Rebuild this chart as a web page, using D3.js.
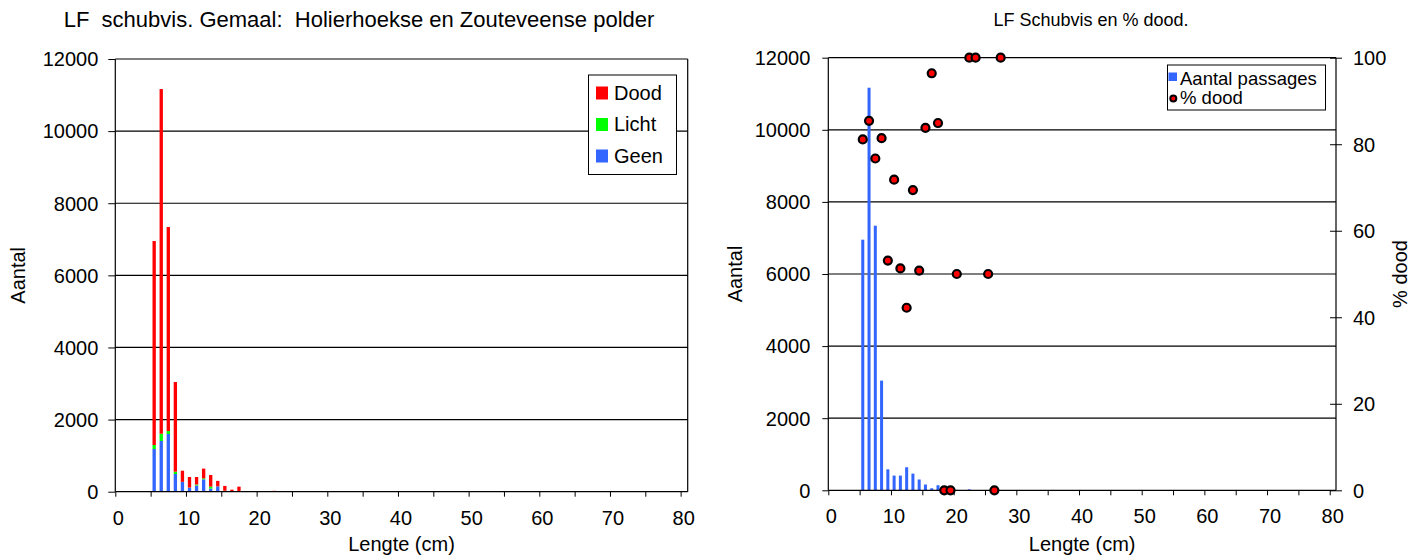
<!DOCTYPE html>
<html><head><meta charset="utf-8">
<script src="https://cdn.jsdelivr.net/npm/d3@7"></script>
<style>
body{margin:0;background:#fff;}
svg{display:block;font-family:"Liberation Sans",Arial,sans-serif;}
text{white-space:pre;}
</style></head><body>
<svg id="c" width="1415" height="558"></svg>
<script>
// ---- data (length classes, plotted at class midpoints) ----
const lengthMid = [5.5,6.5,7.5,8.5,9.5,10.5,11.5,12.5,13.5,14.5,15.5,16.5,17.5,18.5,19.5,20.5,21.5,22.5,23.5,24.5,25.5,26.5,27.5];
const geen  = [1184,1406,1600,491,268,111,171,343,87,148,16,2,21,15,5,6,0,0,0,0,3,4,0];
const licht = [111,202,83,64,5,4,28,27,55,0,10,0,0,0,0,0,0,0,0,0,0,0,0];
const dood  = [5657,9559,5657,2487,309,293,209,270,321,152,134,54,119,0,0,6,0,25,8,0,3,0,4];
const pctDood = [81.1,85.4,76.7,81.4,53.1,71.8,51.3,42.2,69.4,50.8,83.8,96.4,84.9,0,0,50,null,100,100,null,50,0,100];
const countTicks = [0,2000,4000,6000,8000,10000,12000];
const lengthTicks = [0,5,10,15,20,25,30,35,40,45,50,55,60,65,70,75,80];
const pctTicks = [0,20,40,60,80,100];
const seriesKeys = ["geen","licht","dood"];
const seriesColors = {geen:"#3366FF", licht:"#00FF00", dood:"#FF0000"};
const legendLeft = [["dood","Dood"],["licht","Licht"],["geen","Geen"]];
const titleLeft = "LF  schubvis. Gemaal:  Holierhoekse en Zouteveense polder";
const titleRight = "LF Schubvis en % dood.";
const xTitle = "Lengte (cm)";
const yTitle = "Aantal";
const y2Title = "% dood";
const legendRight = ["Aantal passages","% dood"];

const table = lengthMid.map((m,i)=>({mid:m, geen:geen[i], licht:licht[i], dood:dood[i], total:geen[i]+licht[i]+dood[i], pct:pctDood[i]}));
const svg = d3.select("#c");
const FS = 20;

// ================= LEFT CHART =================
(function(){
  const L=115.3, R=687.7, T=59, B=491.7;
  const x = d3.scaleLinear().domain([0,81]).range([L,R]);
  const y = d3.scaleLinear().domain([0,12000]).range([B,T]);
  const g = svg.append("g");
  g.selectAll("line.grid").data(countTicks.filter(d=>d>0)).join("line")
    .attr("x1",L).attr("x2",R).attr("y1",d=>y(d)).attr("y2",d=>y(d))
    .attr("stroke","#000").attr("stroke-width",1.2);
  g.append("line").attr("x1",R).attr("x2",R).attr("y1",T).attr("y2",B).attr("stroke","#000").attr("stroke-width",1.2);
  const stack = d3.stack().keys(seriesKeys)(table);
  const bw = x(0.47)-x(0);
  g.selectAll("g.s").data(stack).join("g").attr("fill",d=>seriesColors[d.key])
    .selectAll("rect").data(d=>d).join("rect")
    .attr("x",d=>x(d.data.mid)-bw/2).attr("width",bw)
    .attr("y",d=>y(d[1])).attr("height",d=>Math.max(0,y(d[0])-y(d[1])));
  const xa = d3.axisBottom(x).tickValues(lengthTicks).tickSize(5).tickFormat(d=>d%10===0?d:"");
  const gx = g.append("g").attr("transform",`translate(0,${B})`).call(xa);
  gx.select(".domain").attr("stroke","#000").attr("stroke-width",1.2).attr("d",`M${L},0H${R}`);
  gx.selectAll("text").attr("font-size",FS).attr("fill","#000").attr("dy","0").attr("y",33).attr("dx",2.5);
  const ya = d3.axisLeft(y).tickValues(countTicks).tickSize(7).tickFormat(d3.format("d"));
  const gy = g.append("g").attr("transform",`translate(${L},0)`).call(ya);
  gy.select(".domain").attr("stroke","#000").attr("stroke-width",1.2).attr("d",`M0,${T}V${B}`);
  gy.selectAll("text").attr("font-size",FS).attr("fill","#000").attr("x",-17).attr("dy","0.34em");
  g.append("text").attr("x",359).attr("y",27).attr("text-anchor","middle").attr("font-size",22).text(titleLeft);
  g.append("text").attr("x",(L+R)/2).attr("y",551).attr("text-anchor","middle").attr("font-size",FS).text(xTitle);
  g.append("text").attr("transform",`translate(25,${(T+B)/2}) rotate(-90)`).attr("text-anchor","middle").attr("font-size",FS).text(yTitle);
  const lg = g.append("g");
  lg.append("rect").attr("x",588.5).attr("y",75).attr("width",88).attr("height",99.5).attr("fill","#fff").attr("stroke","#000").attr("stroke-width",1);
  legendLeft.forEach(([k,label],i)=>{
    const yy = 99.5 + i*31.5;
    lg.append("rect").attr("x",596).attr("y",yy-13).attr("width",12).attr("height",13).attr("fill",seriesColors[k]);
    lg.append("text").attr("x",614).attr("y",yy).attr("font-size",FS).text(label);
  });
})();

// ================= RIGHT CHART =================
(function(){
  const L=828.3, R=1336, T=57.7, B=490.3;
  const x = d3.scaleLinear().domain([0,81]).range([L,R]);
  const y = d3.scaleLinear().domain([0,12000]).range([B,T]);
  const y2 = d3.scaleLinear().domain([0,100]).range([B,T]);
  const g = svg.append("g");
  g.selectAll("line.grid").data(countTicks.filter(d=>d>0)).join("line")
    .attr("x1",L).attr("x2",R).attr("y1",d=>y(d)).attr("y2",d=>y(d))
    .attr("stroke","#000").attr("stroke-width",1.2);
  const bw = x(0.48)-x(0);
  g.append("g").attr("fill",seriesColors.geen).selectAll("rect").data(table).join("rect")
    .attr("x",d=>x(d.mid)-bw/2).attr("width",bw)
    .attr("y",d=>y(d.total)).attr("height",d=>B-y(d.total));
  const xa = d3.axisBottom(x).tickValues(lengthTicks).tickSize(5).tickFormat(d=>d%10===0?d:"");
  const gx = g.append("g").attr("transform",`translate(0,${B})`).call(xa);
  gx.select(".domain").attr("stroke","#000").attr("stroke-width",1.2).attr("d",`M${L},0H${R}`);
  gx.selectAll("text").attr("font-size",FS).attr("fill","#000").attr("dy","0").attr("y",33).attr("dx",2.5);
  const ya = d3.axisLeft(y).tickValues(countTicks).tickSize(6).tickFormat(d3.format("d"));
  const gy = g.append("g").attr("transform",`translate(${L},0)`).call(ya);
  gy.select(".domain").attr("stroke","#000").attr("stroke-width",1.2).attr("d",`M0,${T}V${B}`);
  gy.selectAll("text").attr("font-size",FS).attr("fill","#000").attr("x",-18).attr("dy","0.34em");
  const ya2 = d3.axisRight(y2).tickValues(pctTicks).tickSize(6).tickFormat(d3.format("d"));
  const gy2 = g.append("g").attr("transform",`translate(${R},0)`).call(ya2);
  gy2.select(".domain").attr("stroke","#000").attr("stroke-width",1.2).attr("d",`M0,${T}V${B}`);
  gy2.selectAll(".tick line").attr("x1",-6);
  gy2.selectAll("text").attr("font-size",FS).attr("fill","#000").attr("x",17).attr("dy","0.34em");
  g.append("g").selectAll("circle").data(table.filter(d=>d.pct!==null)).join("circle")
    .attr("cx",d=>x(d.mid)).attr("cy",d=>y2(d.pct)).attr("r",4)
    .attr("fill","#FF0000").attr("stroke","#000").attr("stroke-width",2.2);
  g.append("text").attr("x",1091).attr("y",26).attr("text-anchor","middle").attr("font-size",18).text(titleRight);
  g.append("text").attr("x",(L+R)/2).attr("y",551).attr("text-anchor","middle").attr("font-size",FS).text(xTitle);
  g.append("text").attr("transform",`translate(742,${(T+B)/2}) rotate(-90)`).attr("text-anchor","middle").attr("font-size",FS).text(yTitle);
  g.append("text").attr("transform",`translate(1407,${(T+B)/2}) rotate(-90)`).attr("text-anchor","middle").attr("font-size",FS).text(y2Title);
  const lg = g.append("g");
  lg.append("rect").attr("x",1167.5).attr("y",65).attr("width",158).attr("height",45).attr("fill","#fff").attr("stroke","#000").attr("stroke-width",1);
  lg.append("rect").attr("x",1168.5).attr("y",72.5).attr("width",8.5).attr("height",8.5).attr("fill",seriesColors.geen);
  lg.append("text").attr("x",1180).attr("y",84.5).attr("font-size",18.5).text(legendRight[0]);
  lg.append("circle").attr("cx",1173.3).attr("cy",98.5).attr("r",3).attr("fill","#FF0000").attr("stroke","#000").attr("stroke-width",2);
  lg.append("text").attr("x",1180).attr("y",104).attr("font-size",18.5).text(legendRight[1]);
})();
</script>
</body></html>
